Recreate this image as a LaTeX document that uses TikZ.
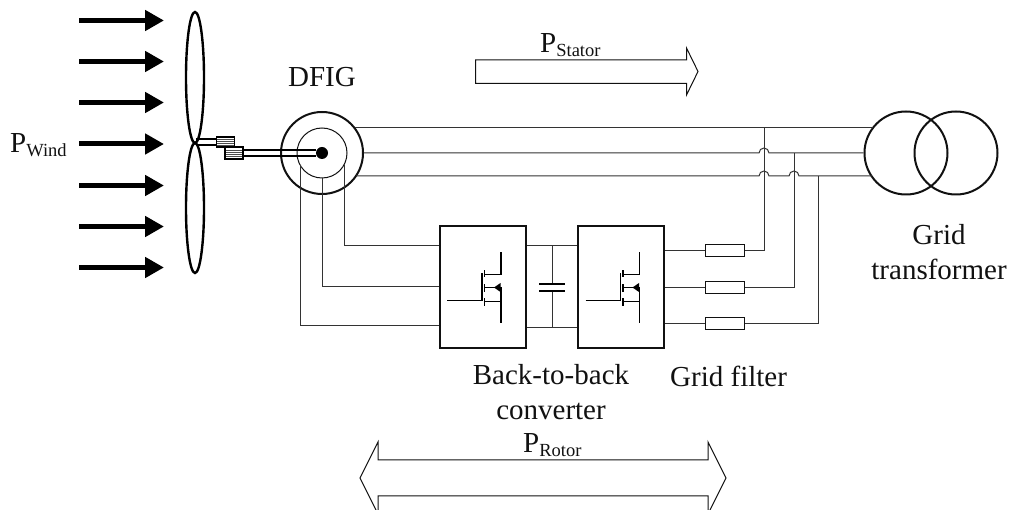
\documentclass[tikz,border=0pt]{standalone}
\usepackage{fontspec}
\setmainfont{Liberation Serif}
\usetikzlibrary{arrows.meta,positioning,calc,shapes.geometric}
\definecolor{ink}{HTML}{111111}
\definecolor{wire}{HTML}{333333}
\tikzset{
  windarr/.style={-{Triangle[length=19pt,width=20pt]},line width=5pt,draw=black},
  blade/.style={draw=black,line width=2.4pt},
  wirel/.style={draw=wire,line width=1pt},
  machine/.style={circle,draw=ink,line width=2pt,inner sep=0pt},
  convbox/.style={draw=ink,line width=2pt,minimum width=86pt,minimum height=122pt,inner sep=0pt},
  filterbox/.style={draw=ink,fill=white,line width=1pt,minimum width=39pt,minimum height=12pt,inner sep=0pt},
  gearbox/.style={draw=black,line width=1.6pt,inner sep=0pt,
    path picture={\foreach \yy in {-3,-1,1,3}{\draw[black!70,line width=.9pt] ([yshift=\yy pt]path picture bounding box.west) -- ([yshift=\yy pt]path picture bounding box.east);}}},
  powerarr/.style={draw=ink,line width=1pt},
  lbl/.style={font=\fontsize{29}{35}\selectfont,align=center,inner sep=0pt,text=ink},
  igbt/.pic={
    \draw[line width=1.8pt] (-35,13) -- (0,13) -- (0,-14);
    \draw[line width=1.8pt] (2.5,-17) -- (2.5,-10) (2.5,-3) -- (2.5,5) (2.5,11) -- (2.5,19);
    \draw[line width=1.8pt] (19,-35) -- (19,-13) -- (2.5,-13);
    \draw[line width=1.8pt] (2.5,0) -- (19,0) -- (19,36);
    \draw[line width=1.8pt] (2.5,14) -- (19,14);
    \fill (12,0) -- (18.5,-4.5) -- (18.5,4.5) -- cycle;
  }
}
\newcommand{\hop}[2]{-- (#1-5,#2) arc[start angle=180,end angle=0,radius=5pt]}
\newcommand{\powsub}[1]{P\raisebox{-4pt}{\fontsize{18.5}{20}\selectfont #1}}
\begin{document}
\begin{tikzpicture}[x=1pt,y=-1pt]
  \path[use as bounding box] (0,0) rectangle (1010,510);
  % wind
  \foreach \yy [count=\i] in {20.5,61.5,102.5,144,185.5,226.5,267.5}{
    \coordinate (w\i) at (79,\yy);
    \coordinate (h\i) at (164,\yy);
    \draw[windarr] (w\i) -- (h\i);
  }
  \node[lbl,anchor=base west] (pwind) at (10,153) {\powsub{Wind}};
  % rotor blades
  \node[blade,ellipse,minimum width=18pt,minimum height=131pt,inner sep=0pt] (bladeA) at (195,77.5) {};
  \node[blade,ellipse,minimum width=18pt,minimum height=130pt,inner sep=0pt] (bladeB) at (195,208) {};
  % machine
  \node[machine,minimum size=82pt] (dfig) at (322,153) {};
  \node[circle,draw=ink,line width=1pt,minimum size=50pt,inner sep=0pt] (dfigin) at (322,153) {};
  \node[circle,fill=black,minimum size=12pt,inner sep=0pt] (hub) at (322,153) {};
  \node[lbl,above=24pt of dfig] (dfiglbl) {DFIG};
  % gearbox and shaft
  \coordinate (sh) at (196,142);
  \node[gearbox,minimum width=18pt,minimum height=10pt] (gbA) at (225.5,142) {};
  \node[gearbox,minimum width=18pt,minimum height=12pt] (gbB) at (234,153) {};
  \draw[line width=1.4pt] ($(sh)+(0,-3)$) -- ($(gbA.west)+(0,-3)$) ($(sh)+(0,3)$) -- ($(gbA.west)+(0,3)$);
  \draw[line width=1.4pt] ($(gbB.east)+(0,-3)$) -- ($(hub.west)+(0,-3)$) ($(gbB.east)+(0,3)$) -- ($(hub.west)+(0,3)$);
  % transformer
  \node[machine,minimum size=83pt] (trA) at (906,153) {};
  \node[machine,minimum size=83pt] (trB) at (956,153) {};
  \node[lbl,below=41pt of trA.south east,xshift=3pt,anchor=north] (trlbl) {Grid\\transformer};
  % converter
  \node[convbox] (convA) at (483,287) {};
  \node[convbox] (convB) at (621,287.5) {};
  \pic at (482,287.5) {igbt};
  \pic at (620.5,287.5) {igbt};
  \node[lbl,below=15pt of convA.south east,xshift=24pt,anchor=north] (convlbl) {Back-to-back\\converter};
  % dc link
  \coordinate (capA) at (552,284);
  \coordinate (capB) at (552,291);
  \draw[wirel] (convA.east |- 0,246) -- (convB.west |- 0,246);
  \draw[wirel] (convA.east |- 0,328) -- (convB.west |- 0,328);
  \draw[wirel] (552,246) -- (capA) (capB) -- (552,328);
  \draw[line width=2.4pt] ($(capA)+(-13,0)$) -- ($(capA)+(13,0)$) ($(capB)+(-13,0)$) -- ($(capB)+(13,0)$);
  % filter
  \node[filterbox] (filA) at (724.5,251) {};
  \node[filterbox] (filB) at (724.5,288) {};
  \node[filterbox] (filC) at (724.5,324) {};
  \node[lbl,right=0pt of convB.south east,anchor=north west,xshift=5pt,yshift=-16pt] (fillbl) {Grid filter};
  \draw[wirel] (convB.east |- filA) -- (filA);
  \draw[wirel] (convB.east |- filB) -- (filB);
  \draw[wirel] (convB.east |- filC) -- (filC);
  % stator lines
  \draw[wirel] (354.5,128) -- (873,128);
  \draw[wirel] (dfig.east) \hop{764}{153} -- (trA.west);
  \draw[wirel] (356,176) \hop{764}{176} \hop{794}{176} -- (872,176);
  \draw[wirel] (filA) -| (764,128);
  \draw[wirel] (filB) -| (794,153);
  \draw[wirel] (filC) -| (818,176);
  % rotor lines
  \draw[wirel] (344,165) |- (convA.west |- 0,246);
  \draw[wirel] (dfigin.south) |- (convA.west |- 0,287);
  \draw[wirel] (300,165) |- (convA.west |- 0,326);
  % power arrows
  \draw[powerarr] (475.5,60) -- (686.5,60) -- (686.5,48) -- (698,71.5) -- (686.5,95) -- (686.5,83.5) -- (475.5,83.5) -- cycle;
  \node[lbl,anchor=base west] (pstator) at (540,52.5) {\powsub{Stator}};
  \draw[powerarr] (378,460) -- (708,460) -- (708,442) -- (726,478) -- (708,514) -- (708,496) -- (378,496) -- (378,514) -- (360,478) -- (378,442) -- cycle;
  \node[lbl,anchor=base west] (protor) at (523,453) {\powsub{Rotor}};
\end{tikzpicture}
\end{document}
